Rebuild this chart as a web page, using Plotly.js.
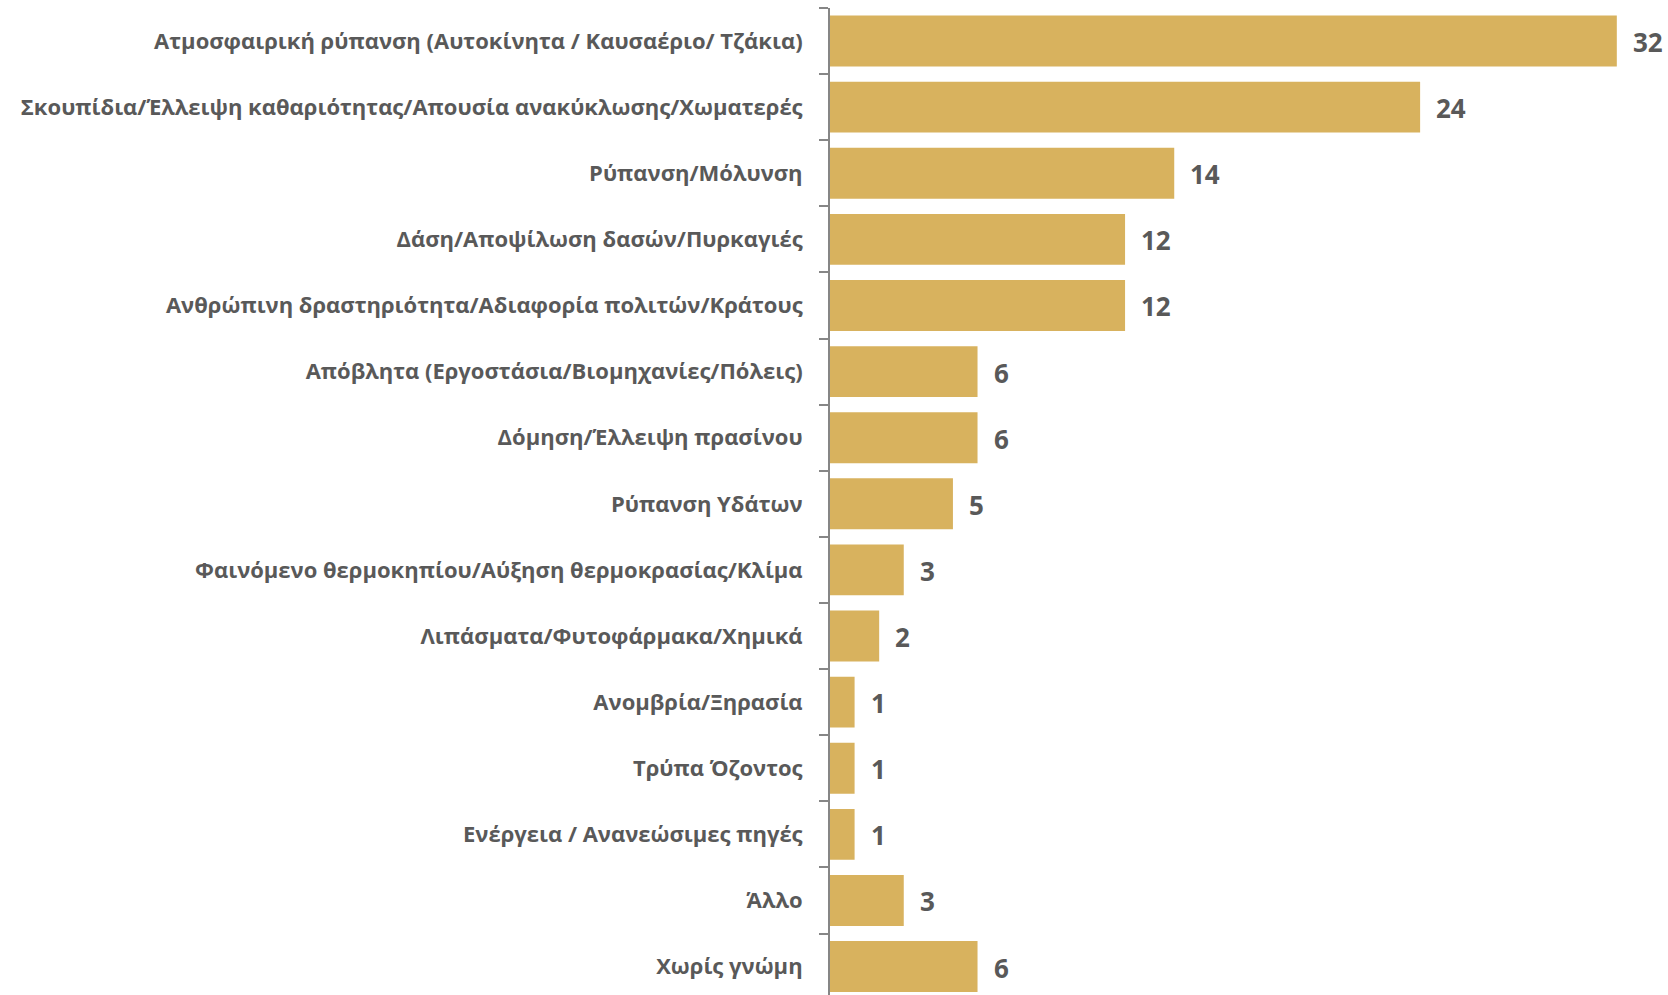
<!DOCTYPE html>
<html><head><meta charset="utf-8">
<script src="https://cdn.plot.ly/plotly-3.0.1.min.js"></script>
<style>html,body{margin:0;padding:0;background:#fff;}#chart{width:1668px;height:995px;}</style>
</head><body><div id="chart"></div>
<script>
const categories = [
  "Ατμοσφαιρική ρύπανση (Αυτοκίνητα / Καυσαέριο/ Τζάκια)",
  "Σκουπίδια/Έλλειψη καθαριότητας/Απουσία ανακύκλωσης/Χωματερές",
  "Ρύπανση/Μόλυνση",
  "Δάση/Αποψίλωση δασών/Πυρκαγιές",
  "Ανθρώπινη δραστηριότητα/Αδιαφορία πολιτών/Κράτους",
  "Απόβλητα (Εργοστάσια/Βιομηχανίες/Πόλεις)",
  "Δόμηση/Έλλειψη πρασίνου",
  "Ρύπανση Υδάτων",
  "Φαινόμενο θερμοκηπίου/Αύξηση θερμοκρασίας/Κλίμα",
  "Λιπάσματα/Φυτοφάρμακα/Χημικά",
  "Ανομβρία/Ξηρασία",
  "Τρύπα Όζοντος",
  "Ενέργεια / Ανανεώσιμες πηγές",
  "Άλλο",
  "Χωρίς γνώμη"
];
const values = [32, 24, 14, 12, 12, 6, 6, 5, 3, 2, 1, 1, 1, 3, 6];

const trace = {
  type: "bar",
  orientation: "h",
  y: categories,
  x: values,
  cliponaxis: false,
  marker: {color: "#D8B25E"},
  hoverinfo: "x+y"
};

const annotations = categories.map((c, i) => ({
  x: values[i], y: c, xref: "x", yref: "y",
  text: String(values[i]),
  showarrow: false, xanchor: "left", yanchor: "middle",
  xshift: 14, yshift: -1,
  font: {family: "Open Sans", size: 26, color: "#595959", weight: "bold"}
}));

const layout = {
  width: 1668, height: 995,
  margin: {l: 830, r: 2, t: 8, b: 0},
  paper_bgcolor: "#fff", plot_bgcolor: "#fff",
  bargap: 0.23,
  showlegend: false,
  annotations: annotations,
  xaxis: {range: [0, 34], visible: false, showgrid: false, zeroline: false},
  yaxis: {
    type: "category",
    range: [14.43, -0.5], autorange: false,
    showline: true, linecolor: "#868686", linewidth: 2,
    ticks: "outside", ticklen: 9, tickcolor: "#868686", tickwidth: 2,
    tickson: "boundaries",
    showgrid: false, zeroline: false,
    ticklabelstandoff: 21,
    tickfont: {family: "Open Sans", size: 22, color: "#595959", weight: "bold"}
  }
};
Plotly.newPlot("chart", [trace], layout, {displayModeBar: false, staticPlot: true});
</script></body></html>
